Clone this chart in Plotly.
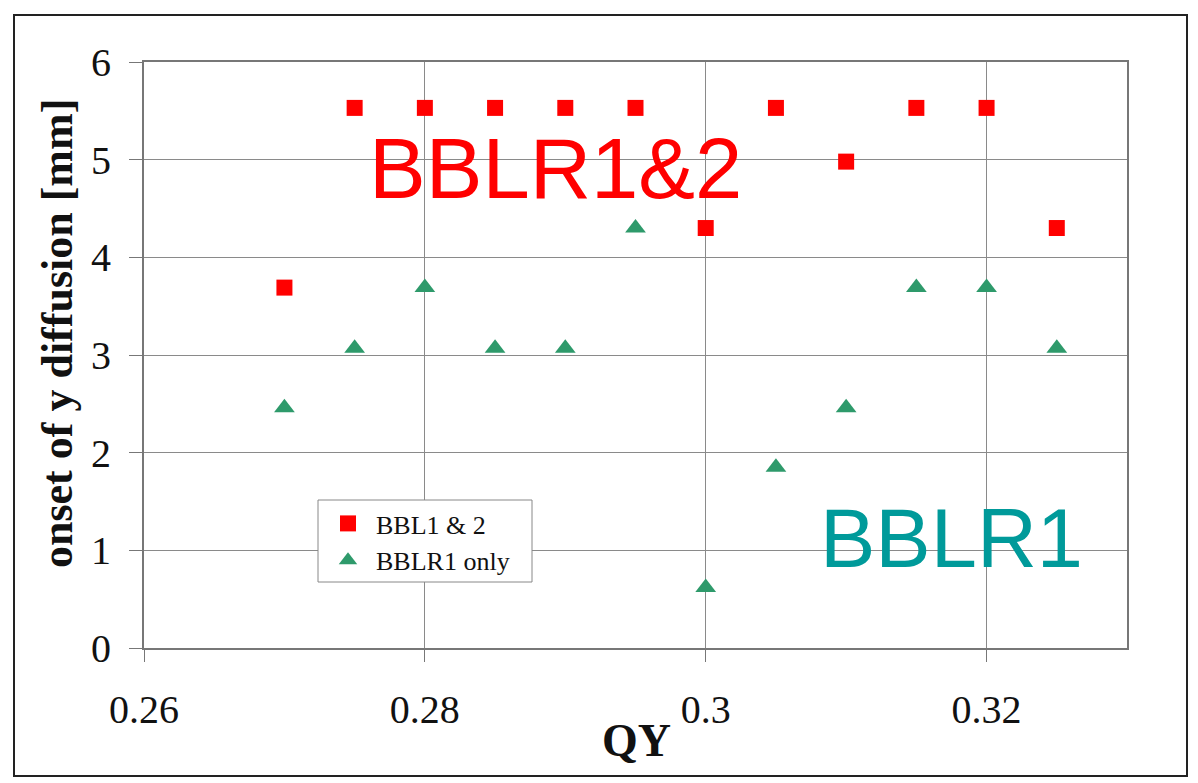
import plotly.graph_objects as go

qy = [0.27, 0.275, 0.28, 0.285, 0.29, 0.295, 0.30, 0.305, 0.31, 0.315, 0.32, 0.325]
bbl12 = [3.69, 5.53, 5.53, 5.53, 5.53, 5.53, 4.30, 5.53, 4.98, 5.53, 5.53, 4.30]
bblr1 = [2.46, 3.07, 3.69, 3.07, 3.07, 4.30, 0.62, 1.85, 2.46, 3.69, 3.69, 3.07]
x_ticks = [0.26, 0.28, 0.30, 0.32]
x_ticktext = ["0.26", "0.28", "0.3", "0.32"]

serif = "Liberation Serif, Times New Roman, serif"
sans = "Liberation Sans, Arial, sans-serif"

fig = go.Figure()
fig.add_trace(go.Scatter(x=qy, y=bbl12, mode="markers", name="BBL1 & 2", legendgroup="a",
                         marker=dict(symbol="square", size=16, color="#FF0000")))
fig.add_trace(go.Scatter(x=qy, y=bblr1, mode="markers", name="BBLR1 only", legendgroup="b",
                         marker=dict(symbol="triangle-up", size=18, color="#2E9A6B")))

W, H = 1198, 783
L, T, R, B = 144, 62, 1127, 648
pw, ph = R - L, B - T

fig.add_annotation(text="BBLR1&2", x=0.2893, y=4.91, xref="x", yref="y",
                   showarrow=False, font=dict(family=sans, size=85, color="#FF0000"))
fig.add_annotation(text="BBLR1", x=0.3175, y=1.12, xref="x", yref="y",
                   showarrow=False, font=dict(family=sans, size=83, color="#009A9A"))

# axis titles
fig.add_annotation(text="<b>QY</b>", x=(636 - L) / pw, y=(B - 740) / ph,
                   xref="paper", yref="paper", showarrow=False,
                   xanchor="center", yanchor="middle",
                   font=dict(family=serif, size=46, color="#111111"))
fig.add_annotation(text="<b>onset of y diffusion [mm]</b>", x=(57 - L) / pw, y=(B - 334) / ph,
                   xref="paper", yref="paper", showarrow=False, textangle=-90,
                   xanchor="center", yanchor="middle",
                   font=dict(family=serif, size=44, color="#111111"))

# outer frame
fig.add_shape(type="rect", xref="paper", yref="paper",
              x0=(14 - L) / pw, x1=(1187 - L) / pw,
              y0=(B - 776) / ph, y1=(B - 15) / ph,
              line=dict(color="#222222", width=2), layer="below")

# legend box
fig.add_shape(type="rect", xref="paper", yref="paper",
              x0=(318 - L) / pw, x1=(532 - L) / pw,
              y0=(B - 582) / ph, y1=(B - 500) / ph,
              line=dict(color="#888888", width=1), fillcolor="white", layer="above")

fig.update_layout(
    width=W, height=H,
    margin=dict(l=L, r=W - R, t=T, b=H - B),
    paper_bgcolor="white", plot_bgcolor="white",
    showlegend=True,
    legend=dict(x=(320 - L) / pw, y=(B - 500) / ph, xanchor="left", yanchor="top",
                borderwidth=0, bgcolor="rgba(0,0,0,0)",
                font=dict(family=serif, size=26, color="#111111"),
                itemwidth=46, tracegroupgap=0),
    xaxis=dict(range=[0.26, 0.33], tickvals=x_ticks, ticktext=x_ticktext,
               showgrid=True, gridcolor="#8a8a8a", gridwidth=1,
               showline=True, linecolor="#777777", linewidth=2, mirror=True,
               ticks="outside", ticklen=12, tickcolor="#777777",
               ticklabelstandoff=13, automargin=False,
               tickfont=dict(family=serif, size=40, color="#111111"),
               zeroline=False),
    yaxis=dict(range=[0, 6], dtick=1,
               showgrid=True, gridcolor="#8a8a8a", gridwidth=1,
               showline=True, linecolor="#777777", linewidth=2, mirror=True,
               ticks="outside", ticklen=13, tickcolor="#777777",
               ticklabelstandoff=10, automargin=False,
               tickfont=dict(family=serif, size=40, color="#111111"),
               zeroline=False),
)

fig.write_html("out.html")
